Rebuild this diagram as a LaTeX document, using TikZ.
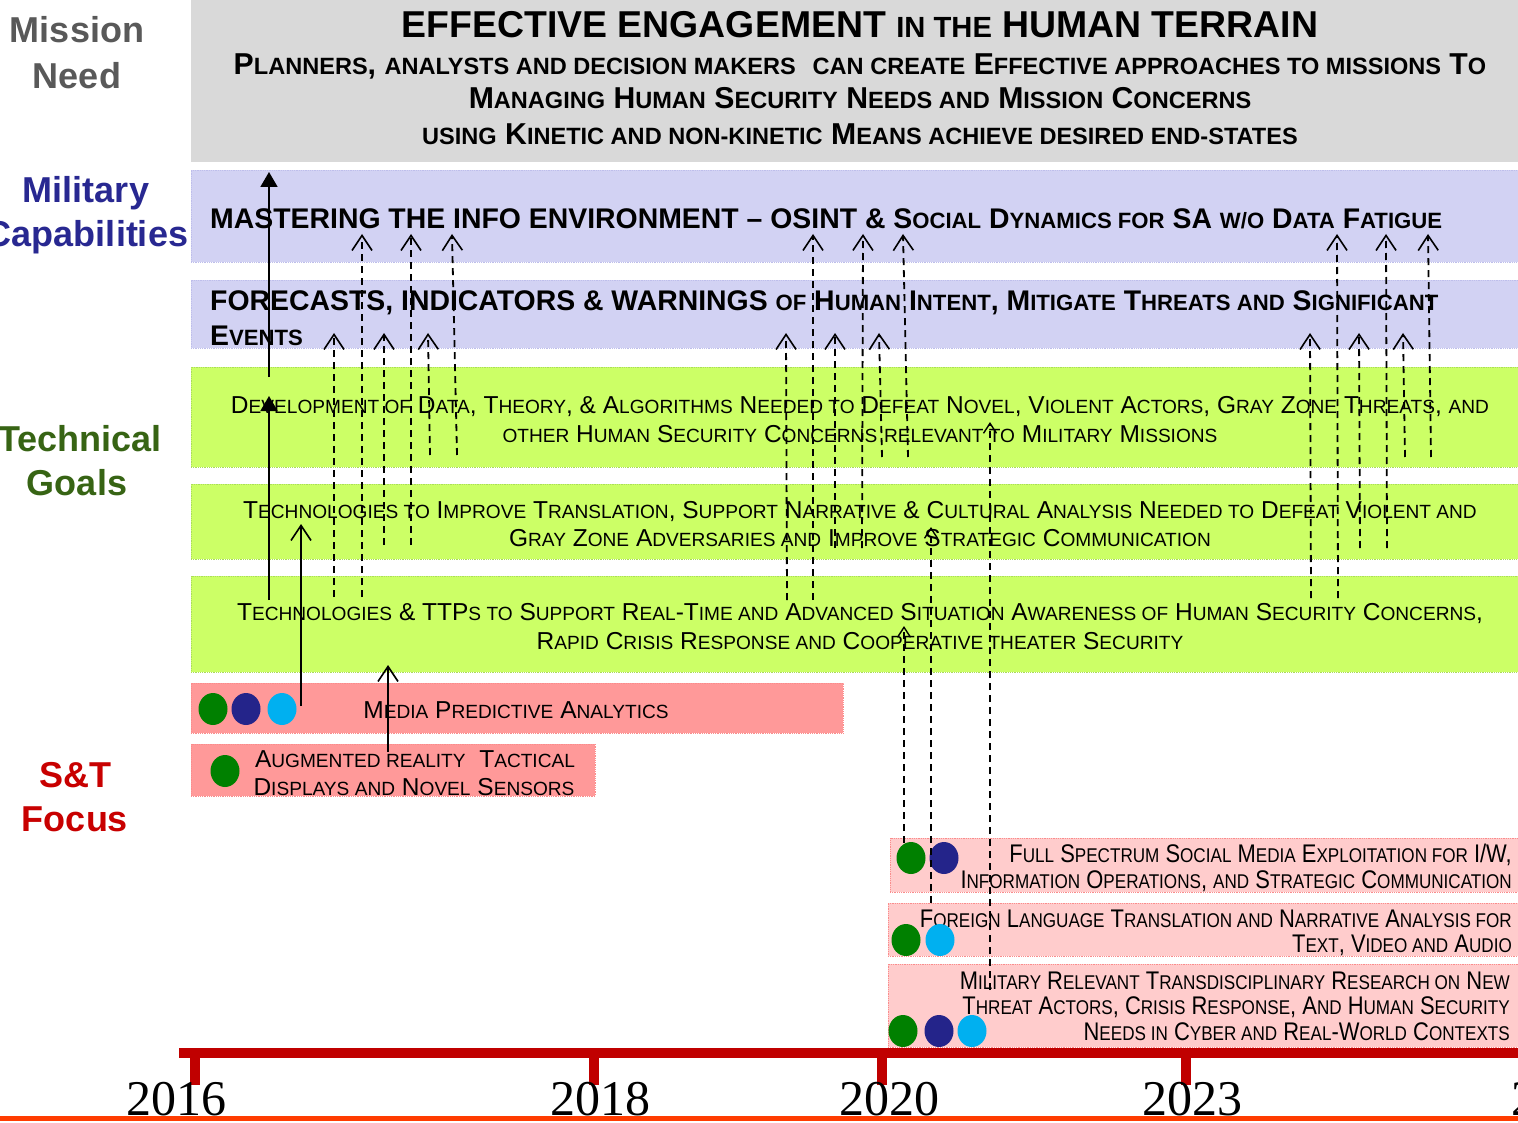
\documentclass[tikz,border=0pt]{standalone}
\usepackage{fontspec}
\usepackage{graphicx}
\setmainfont{Liberation Sans}
\newfontfamily\narrowfont[FakeStretch=0.86]{Liberation Sans}
\newfontfamily\yearfont{Liberation Serif}
\usetikzlibrary{arrows.meta,shapes.geometric}
\newcommand\lc[1]{\scalebox{0.78}{#1}}
\definecolor{boxgray}{RGB}{217,217,217}
\definecolor{lav}{RGB}{210,210,243}
\definecolor{lavline}{RGB}{190,190,235}
\definecolor{lime}{RGB}{204,255,102}
\definecolor{limeline}{RGB}{170,220,90}
\definecolor{pinkA}{RGB}{255,153,153}
\definecolor{pinkB}{RGB}{255,204,204}
\definecolor{pinkline}{RGB}{250,140,140}
\definecolor{labgray}{RGB}{89,89,89}
\definecolor{labblue}{RGB}{40,40,145}
\definecolor{labgreen}{RGB}{55,100,20}
\definecolor{labred}{RGB}{200,0,0}
\definecolor{dotgreen}{RGB}{0,128,0}
\definecolor{dotnavy}{RGB}{36,36,138}
\definecolor{dotcyan}{RGB}{0,176,240}
\definecolor{barred}{RGB}{192,0,0}
\definecolor{baseorange}{RGB}{255,60,0}
\begin{document}
\begin{tikzpicture}[x=1pt,y=-1pt,
  bandbox/.style={anchor=north west,inner sep=0pt,outer sep=0pt,draw=#1,densely dotted,line width=0.8pt},
  rowlab/.style={anchor=base,font=\bfseries\fontsize{36}{40}\selectfont},
  ttlfont/.style={font=\bfseries\fontsize{37.4}{40}\selectfont},
  subfont/.style={font=\bfseries\fontsize{30.2}{32}\selectfont},
  capfont/.style={font=\bfseries\fontsize{28.4}{30}\selectfont},
  techfont/.style={font=\fontsize{24.5}{28}\selectfont},
  stlfont/.style={font=\fontsize{24.5}{28}\selectfont},
  stfont/.style={font=\narrowfont\fontsize{25.5}{28}\selectfont},
  yearlab/.style={anchor=base,font=\yearfont\fontsize{50}{54}\selectfont},
  bullet/.style={ellipse,minimum width=29pt,minimum height=32pt,inner sep=0pt},
  dashup/.style={-{Straight Barb[length=15pt,width=20pt,line width=1.6pt]},line width=1.8pt,dash pattern=on 7pt off 5pt},
  dashsmall/.style={-{Straight Barb[length=10pt,width=13pt,line width=1.4pt]},line width=1.8pt,dash pattern=on 7pt off 5pt},
  solidopen/.style={-{Straight Barb[length=15pt,width=20pt,line width=1.6pt]},line width=1.8pt},
  solidfill/.style={-{Triangle[length=15pt,width=17pt]},line width=1.8pt},
]
\useasboundingbox (0,0) rectangle (1518,1123);
\clip (0,0) rectangle (1518,1123);
\fill[white] (0,0) rectangle (1518,1123);

% ---------- bands ----------
\node[bandbox=boxgray,fill=boxgray,draw=none,minimum width=1327pt,minimum height=162pt] (need) at (191,0) {};
\node[bandbox=lavline,fill=lav,minimum width=1327pt,minimum height=92pt] (mc1) at (191,170) {};
\node[bandbox=lavline,fill=lav,minimum width=1327pt,minimum height=68pt] (mc2) at (191,280) {};
\node[bandbox=limeline,fill=lime,minimum width=1327pt,minimum height=100pt] (tg1) at (191,367) {};
\node[bandbox=limeline,fill=lime,minimum width=1327pt,minimum height=75pt] (tg2) at (191,484) {};
\node[bandbox=limeline,fill=lime,minimum width=1327pt,minimum height=96pt] (tg3) at (191,576) {};
\node[bandbox=pinkline,fill=pinkA,minimum width=652pt,minimum height=50pt] (st1) at (191,683) {};
\node[bandbox=pinkline,fill=pinkA,minimum width=404pt,minimum height=52pt] (st2) at (191,744) {};
\node[bandbox=pinkline,fill=pinkB,minimum width=628pt,minimum height=54pt] (st3) at (890,838) {};
\node[bandbox=pinkline,fill=pinkB,minimum width=630pt,minimum height=53pt] (st4) at (888,903) {};
\node[bandbox=pinkline,fill=pinkB,minimum width=630pt,minimum height=83pt] (st5) at (888,964) {};

% ---------- row labels ----------
\node[rowlab,labgray] (l1a) at (77,43) {Mission};
\node[rowlab,labgray] (l1b) at (77,89) {Need};
\node[rowlab,labblue] (l2a) at (86,203) {Military};
\node[rowlab,labblue] (l2b) at (87,247) {Capabilities};
\node[rowlab,labgreen] (l3a) at (80,451) {Technical};
\node[rowlab,labgreen] (l3b) at (77,495) {Goals};
\node[rowlab,labred] (l4a) at (75,787) {S\&T};
\node[rowlab,labred] (l4b) at (75,831) {Focus};

% ---------- mission need ----------
\node[ttlfont,anchor=base] (t0) at (860,38) {EFFECTIVE ENGAGEMENT \lc{IN THE} HUMAN TERRAIN};
\node[subfont,anchor=base] (t1) at (860,75) {P\lc{LANNERS}, \lc{ANALYSTS AND DECISION MAKERS} \ \lc{CAN CREATE} E\lc{FFECTIVE APPROACHES TO MISSIONS} T\lc{O}};
\node[subfont,anchor=base] (t2) at (860,109) {M\lc{ANAGING} H\lc{UMAN} S\lc{ECURITY} N\lc{EEDS AND} M\lc{ISSION} C\lc{ONCERNS}};
\node[subfont,anchor=base] (t3) at (860,145) {\lc{USING} K\lc{INETIC AND NON-KINETIC} M\lc{EANS ACHIEVE DESIRED END-STATES}};

% ---------- military capabilities ----------
\node[capfont,anchor=base west,inner sep=0pt] (c1) at (210,229) {MASTERING THE INFO ENVIRONMENT -- OSINT \& S\lc{OCIAL} D\lc{YNAMICS FOR} SA \lc{W/O} D\lc{ATA} F\lc{ATIGUE}};
\node[capfont,anchor=base west,inner sep=0pt] (c2) at (210,311) {FORECASTS, INDICATORS \& WARNINGS \lc{OF} H\lc{UMAN} I\lc{NTENT}, M\lc{ITIGATE} T\lc{HREATS AND} S\lc{IGNIFICANT}};
\node[capfont,anchor=base west,inner sep=0pt] (c3) at (210,345) {E\lc{VENTS}};

% ---------- technical goals ----------
\node[techfont,anchor=base] (g1a) at (860,413) {D\lc{EVELOPMENT OF} D\lc{ATA}, T\lc{HEORY}, \& A\lc{LGORITHMS} N\lc{EEDED TO} D\lc{EFEAT} N\lc{OVEL}, V\lc{IOLENT} A\lc{CTORS}, G\lc{RAY} Z\lc{ONE} T\lc{HREATS}, \lc{AND}};
\node[techfont,anchor=base] (g1b) at (860,442) {\lc{OTHER} H\lc{UMAN} S\lc{ECURITY} C\lc{ONCERNS} \lc{RELEVANT TO} M\lc{ILITARY} M\lc{ISSIONS}};
\node[techfont,anchor=base] (g2a) at (860,518) {T\lc{ECHNOLOGIES TO} I\lc{MPROVE} T\lc{RANSLATION}, S\lc{UPPORT} N\lc{ARRATIVE} \& C\lc{ULTURAL} A\lc{NALYSIS} N\lc{EEDED TO} D\lc{EFEAT} V\lc{IOLENT AND}};
\node[techfont,anchor=base] (g2b) at (860,546) {G\lc{RAY} Z\lc{ONE} A\lc{DVERSARIES AND} I\lc{MPROVE} S\lc{TRATEGIC} C\lc{OMMUNICATION}};
\node[techfont,anchor=base] (g3a) at (860,620) {T\lc{ECHNOLOGIES} \& TTP\lc{S TO} S\lc{UPPORT} R\lc{EAL}-T\lc{IME AND} A\lc{DVANCED} S\lc{ITUATION} A\lc{WARENESS OF} H\lc{UMAN} S\lc{ECURITY} C\lc{ONCERNS},};
\node[techfont,anchor=base] (g3b) at (860,649) {R\lc{APID} C\lc{RISIS} R\lc{ESPONSE AND} C\lc{OOPERATIVE THEATER} S\lc{ECURITY}};

% ---------- S&T focus ----------
\node[stlfont,anchor=base] (s1) at (516,718) {M\lc{EDIA} P\lc{REDICTIVE} A\lc{NALYTICS}};
\node[stlfont,anchor=base] (s2a) at (415,767) {A\lc{UGMENTED REALITY} \ T\lc{ACTICAL}};
\node[stlfont,anchor=base] (s2b) at (414,795) {D\lc{ISPLAYS AND} N\lc{OVEL} S\lc{ENSORS}};
\node[stfont,anchor=base east,inner sep=0pt] (s3a) at (1512,862) {F\lc{ULL} S\lc{PECTRUM} S\lc{OCIAL} M\lc{EDIA} E\lc{XPLOITATION FOR} I/W,};
\node[stfont,anchor=base east,inner sep=0pt] (s3b) at (1512,888) {I\lc{NFORMATION} O\lc{PERATIONS}, \lc{AND} S\lc{TRATEGIC} C\lc{OMMUNICATION}};
\node[stfont,anchor=base east,inner sep=0pt] (s4a) at (1512,927) {F\lc{OREIGN} L\lc{ANGUAGE} T\lc{RANSLATION AND} N\lc{ARRATIVE} A\lc{NALYSIS FOR}};
\node[stfont,anchor=base east,inner sep=0pt] (s4b) at (1512,952) {T\lc{EXT}, V\lc{IDEO AND} A\lc{UDIO}};
\node[stfont,anchor=base east,inner sep=0pt] (s5a) at (1510,989) {M\lc{ILITARY} R\lc{ELEVANT} T\lc{RANSDISCIPLINARY} R\lc{ESEARCH ON} N\lc{EW}};
\node[stfont,anchor=base east,inner sep=0pt] (s5b) at (1510,1014) {T\lc{HREAT} A\lc{CTORS}, C\lc{RISIS} R\lc{ESPONSE}, A\lc{ND} H\lc{UMAN} S\lc{ECURITY}};
\node[stfont,anchor=base east,inner sep=0pt] (s5c) at (1510,1040) {N\lc{EEDS IN} C\lc{YBER AND} R\lc{EAL}-W\lc{ORLD} C\lc{ONTEXTS}};

% ---------- dots ----------
\node[bullet,fill=dotgreen] (d1) at (213,709) {};
\node[bullet,fill=dotnavy]  (d2) at (246,709) {};
\node[bullet,fill=dotcyan]  (d3) at (282,709) {};
\node[bullet,fill=dotgreen] (d4) at (225,771) {};
\node[bullet,fill=dotgreen] (d5) at (911,858) {};
\node[bullet,fill=dotnavy]  (d6) at (944,858) {};
\node[bullet,fill=dotgreen] (d7) at (906,940) {};
\node[bullet,fill=dotcyan]  (d8) at (940,940) {};
\node[bullet,fill=dotgreen] (d9) at (903,1031) {};
\node[bullet,fill=dotnavy]  (d10) at (939,1031) {};
\node[bullet,fill=dotcyan]  (d11) at (972,1031) {};

% ---------- timeline ----------
\coordinate (tlL) at (179,1053);
\coordinate (tlR) at (1518,1053);
\draw[barred,line width=10pt] (tlL) -- (tlR);
\foreach \x/\n in {195/a,594/b,882/c,1186/d}{
  \coordinate (tk\n) at (\x,1053);
  \coordinate (tb\n) at (\x,1085);
  \draw[barred,line width=10pt] (tk\n) -- (tb\n);
}
\coordinate (blL) at (0,1118.5);
\coordinate (blR) at (1518,1118.5);
\draw[baseorange,line width=5pt] (blL) -- (blR);
\node[yearlab] (y16) at (176,1115) {2016};
\node[yearlab] (y18) at (600,1115) {2018};
\node[yearlab] (y20) at (889,1115) {2020};
\node[yearlab] (y23) at (1192,1115) {2023};
\node[yearlab,anchor=base west,inner sep=0pt] (y26) at (1511,1115) {2};

% ---------- solid arrows ----------
\coordinate (a1s) at (269,600); \coordinate (a1e) at (269,396);
\coordinate (a2s) at (269,377); \coordinate (a2e) at (269,172);
\coordinate (a3s) at (301,706); \coordinate (a3e) at (301,524);
\coordinate (a4s) at (388,752); \coordinate (a4e) at (388,665);
\draw[solidfill] (a1s) -- (a1e);
\draw[solidfill] (a2s) -- (a2e);
\draw[solidopen] (a3s) -- (a3e);
\draw[solidopen] (a4s) -- (a4e);

% ---------- dashed arrows to capabilities ----------
\foreach \xs/\ys/\xe/\ye [count=\i] in {
  334/597/334/333, 362/597/362/234, 384/545/384/333, 411/545/411/234, 430/455/428/333, 457/455/452/234,
  787/600/786/333, 813/600/813/234, 835/548/835/333, 862/548/863/234, 882/457/879/333, 908/457/903/234,
  1311/598/1310/333, 1338/598/1337/234, 1360/548/1359/333, 1387/548/1386/234, 1405/457/1403/333, 1431/457/1428/234}{
  \coordinate (ds\i) at (\xs,\ys);
  \coordinate (de\i) at (\xe,\ye);
  \draw[dashup] (ds\i) -- (de\i);
}

% ---------- dashed arrows from 2020 focus ----------
\coordinate (b1s) at (904,843); \coordinate (b1e) at (904,626);
\coordinate (b2s) at (931,903); \coordinate (b2e) at (931,527);
\coordinate (b3s) at (990,990); \coordinate (b3e) at (990,422);
\draw[dashsmall] (b1s) -- (b1e);
\draw[dashsmall] (b2s) -- (b2e);
\draw[dashsmall] (b3s) -- (b3e);
\end{tikzpicture}
\end{document}
